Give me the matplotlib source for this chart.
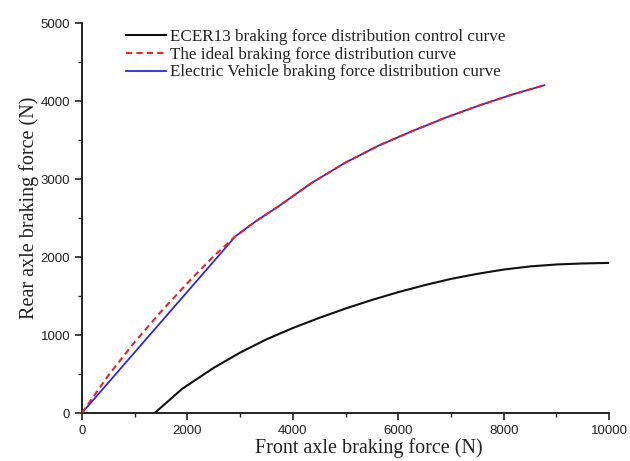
import matplotlib
matplotlib.use("Agg")
import matplotlib.pyplot as plt
from matplotlib.ticker import MultipleLocator

# ECE R13 control curve
ece_x = [1380, 1900, 2500, 3000, 3500, 4000, 4500, 5000, 5500, 6000, 6500,
         7000, 7500, 8000, 8500, 9000, 9500, 10000]
ece_y = [0, 310, 580, 775, 945, 1090, 1220, 1340, 1450, 1550, 1640,
         1720, 1785, 1840, 1880, 1905, 1918, 1925]

# ideal (I-curve)
ideal_x = [0, 500, 1000, 1500, 2000, 2500, 2900, 3300, 3730, 4360, 4990,
           5630, 6260, 6890, 7530, 8160, 8770]
ideal_y = [0, 480, 910, 1300, 1665, 2010, 2260, 2460, 2651, 2951, 3208,
           3429, 3613, 3785, 3942, 4083, 4203]

# EV distribution: straight line then follows ideal curve
ev_x = [0, 2790] + ideal_x[6:]
ev_y = [0, 2170] + ideal_y[6:]

serif = ["Liberation Serif", "DejaVu Serif"]
sans = ["Liberation Sans", "DejaVu Sans"]

fig = plt.figure(figsize=(6.3, 4.61), dpi=100)
ax = fig.add_axes([0.130, 0.104, 0.837, 0.846])

ax.plot(ece_x, ece_y, color="#111111", lw=1.5,
        label="ECER13 braking force distribution control curve")
ax.plot(ideal_x, ideal_y, color="#e8222a", lw=1.5, ls=(0, (3, 2)),
        label="The ideal braking force distribution curve", zorder=3)
ax.plot(ev_x, ev_y, color="#2a2ae0", lw=1.3,
        label="Electric Vehicle braking force distribution curve", zorder=2)

ax.set_xlim(0, 10000)
ax.set_ylim(0, 5000)
ax.xaxis.set_major_locator(MultipleLocator(2000))
ax.xaxis.set_minor_locator(MultipleLocator(1000))
ax.yaxis.set_major_locator(MultipleLocator(1000))
ax.yaxis.set_minor_locator(MultipleLocator(500))
ax.tick_params(which="major", direction="out", length=5, width=1.2,
               labelsize=9.5, colors="#222222")
ax.tick_params(which="minor", direction="out", length=3, width=1.0,
               colors="#222222")
for lab in ax.get_xticklabels() + ax.get_yticklabels():
    lab.set_family(sans)

for s in ["top", "right"]:
    ax.spines[s].set_visible(False)
for s in ["left", "bottom"]:
    ax.spines[s].set_linewidth(1.4)
    ax.spines[s].set_color("#222222")

ax.set_xlabel("Front axle braking force (N)", family=serif, fontsize=14.5,
              labelpad=1, color="#222222", x=0.544)
ax.set_ylabel("Rear axle braking force (N)", family=serif, fontsize=14.5,
              labelpad=1, color="#222222", y=0.526)

leg = ax.legend(loc="upper left", bbox_to_anchor=(0.055, 1.024), frameon=False,
                prop={"family": serif, "size": 12.3}, handlelength=2.3,
                handletextpad=0.25, labelspacing=0.1)
for t in leg.get_texts():
    t.set_color("#222222")

fig.savefig("out.png", dpi=100, facecolor="white")
